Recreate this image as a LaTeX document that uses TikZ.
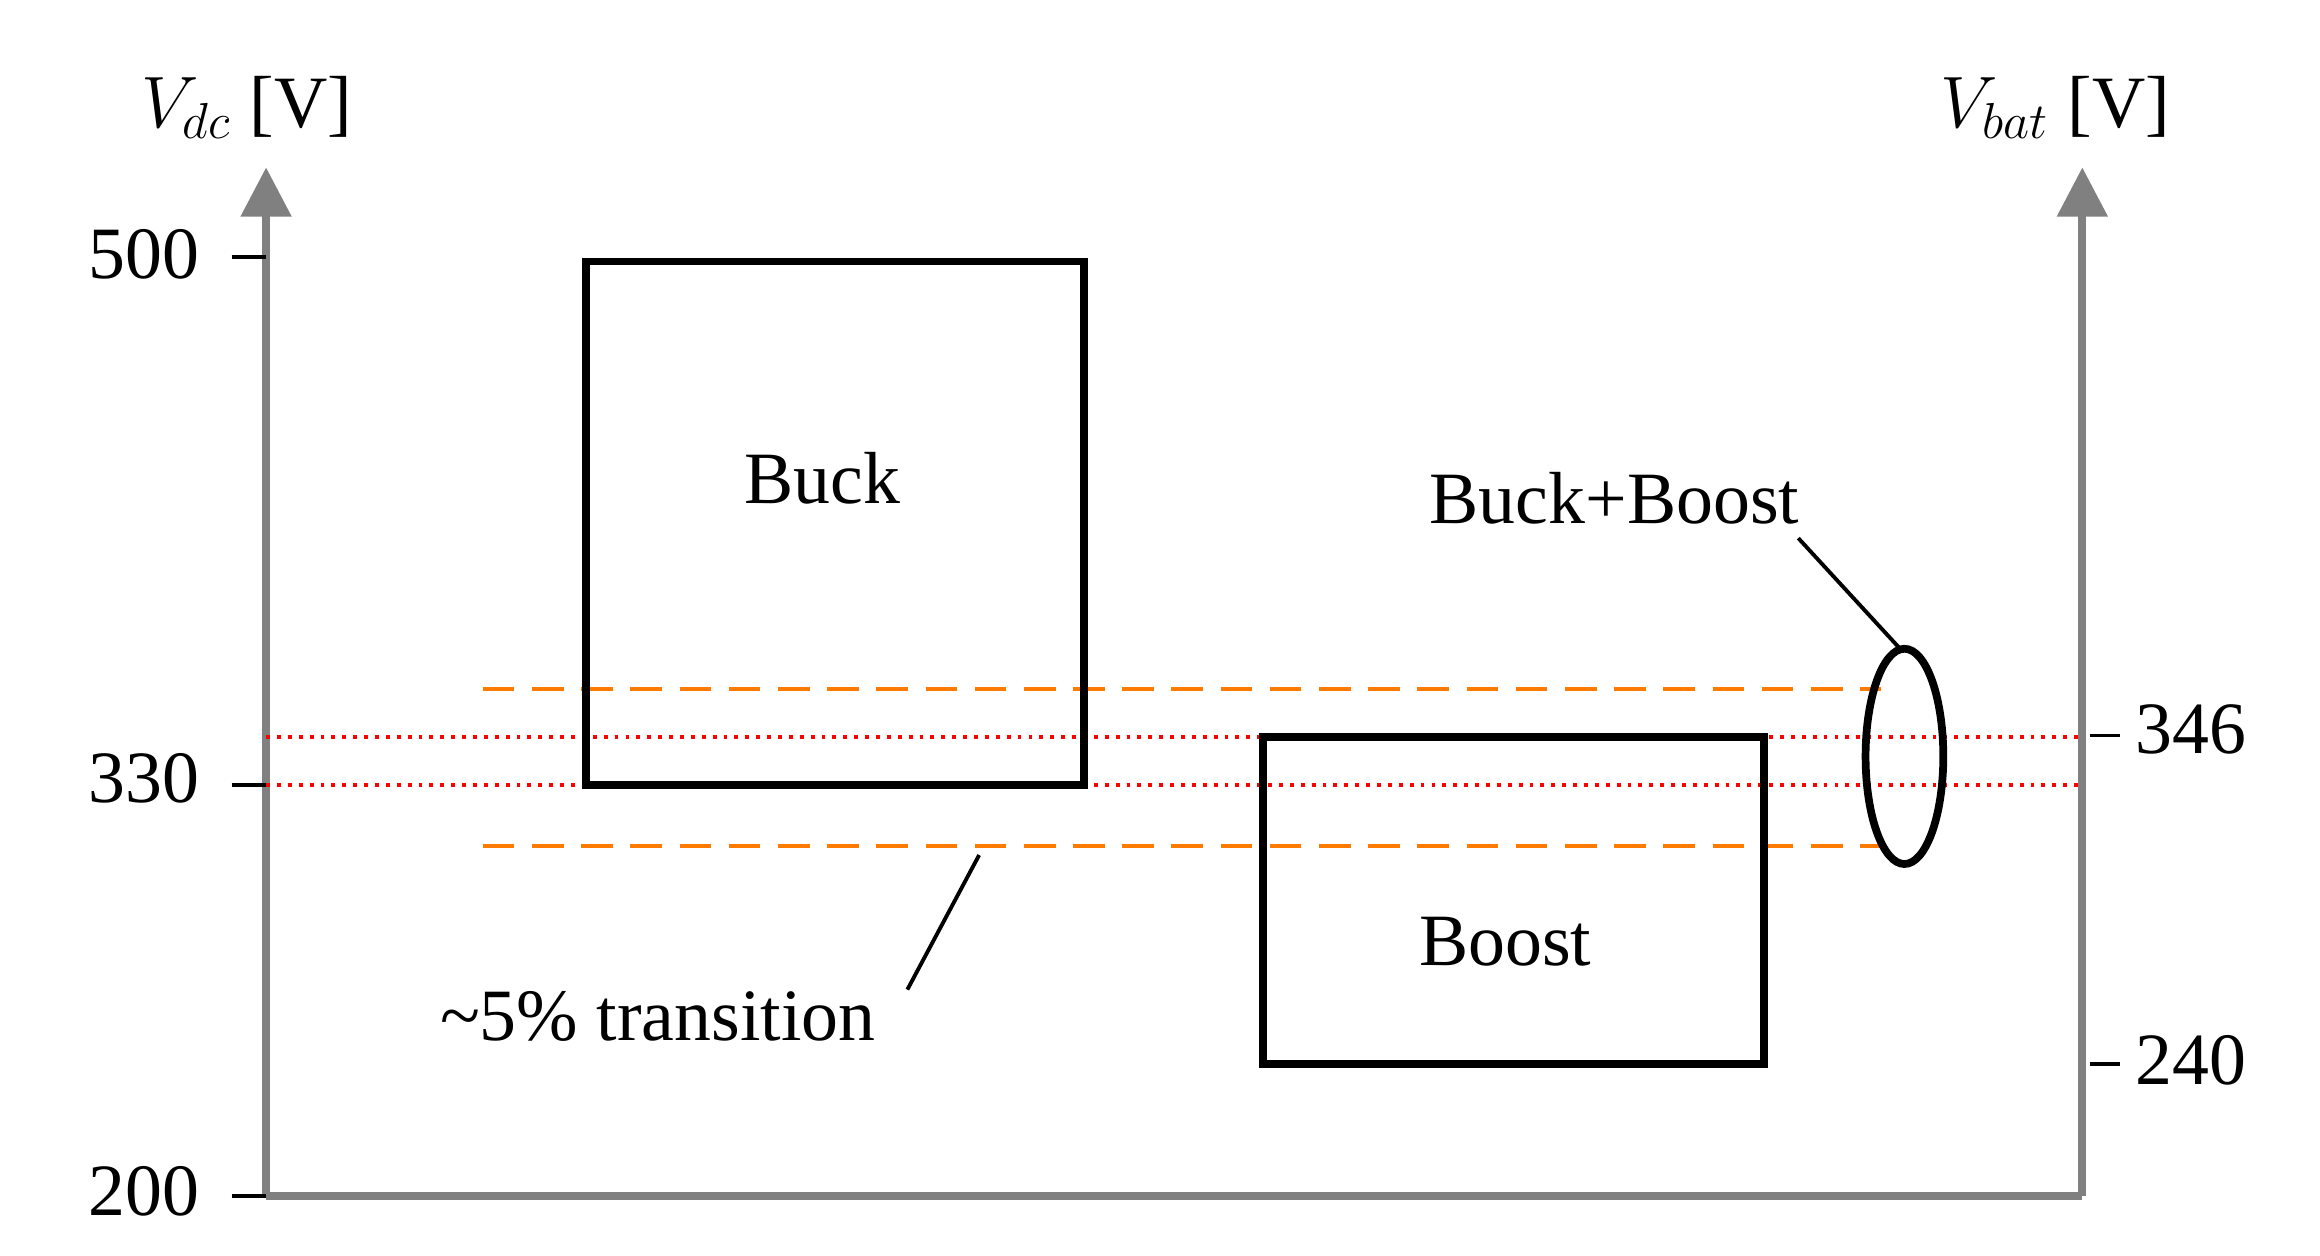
\documentclass[tikz,border=0pt]{standalone}
\usepackage{fontspec}
\setmainfont{Liberation Serif}
\usetikzlibrary{arrows.meta}
\begin{document}
\begin{tikzpicture}[x=0.01495cm,y=-0.01495cm,
  ax/.style={draw=gray,line width=2.2pt},
  box/.style={draw=black,line width=2.2pt},
  lbl/.style={font=\fontsize{21}{25}\selectfont,inner sep=0pt},
  org/.style={draw=orange!85!red!90!yellow,line width=1.1pt,dash pattern=on 9pt off 5pt},
  rd/.style={draw=red,line width=1.1pt,dotted},
  tk/.style={draw=black,line width=1.1pt}]
\useasboundingbox (0,0) rectangle (1552,840);
% axes
\coordinate (o) at (178,800); \coordinate (lt) at (178,112);
\coordinate (r0) at (1393,800); \coordinate (rt) at (1393,112);
\draw[ax,-{Triangle[length=14pt,width=14pt]}] (o) -- (lt);
\draw[ax,-{Triangle[length=14pt,width=14pt]}] (r0) -- (rt);
\draw[ax] (o) -- (r0);
% ticks
\coordinate (t500) at (155,172); \coordinate (t330) at (155,525); \coordinate (t200) at (155,800);
\draw[tk] (t500) -- ++(23,0); \draw[tk] (t330) -- ++(23,0); \draw[tk] (t200) -- ++(23,0);
\node[lbl,anchor=east] (l500) at (134,170) {500};
\node[lbl,anchor=east] (l330) at (134,521) {330};
\node[lbl,anchor=east] (l200) at (134,797) {200};
\coordinate (t346) at (1398,492); \coordinate (t240) at (1398,712);
\draw[tk] (t346) -- ++(20,0); \draw[tk] (t240) -- ++(20,0);
\node[lbl,anchor=west] (l346) at (1428,488) {346};
\node[lbl,anchor=west] (l240) at (1428,709) {240};
\node[lbl] (vdc) at (165,72) {$V_{dc}$ [V]};
\node[lbl] (vbat) at (1375,72) {$V_{bat}$ [V]};
% lines
\draw[org] (323,461) -- (1258,461);
\draw[org] (323,566) -- (1258,566);
\draw[rd] (178,493) -- (1393,493);
\draw[rd] (178,525) -- (1393,525);
% boxes
\draw[box] (392,175) rectangle (725,525);
\draw[box] (845,493) rectangle (1180,712);
\node[lbl] (buck) at (550,320) {Buck};
\node[lbl] (boost) at (1007,630) {Boost};
\draw[box] (1274,506) ellipse [x radius=26,y radius=72];
\node[lbl] (bb) at (1080,333) {Buck+Boost};
\coordinate (bbe) at (1272,435);
\draw[tk] (1203,360) -- (bbe);
\node[lbl] (tr) at (440,680) {\textasciitilde5\% transition};
\coordinate (tre) at (655,572);
\draw[tk] (607,662) -- (tre);
\end{tikzpicture}
\end{document}
